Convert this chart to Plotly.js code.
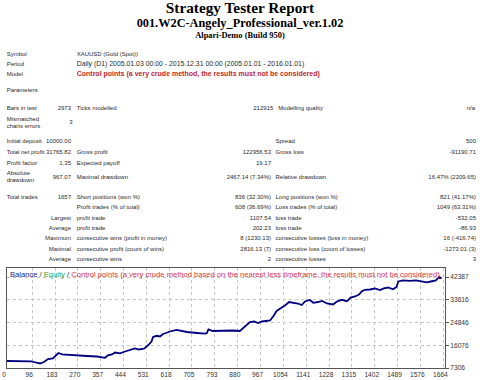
<!DOCTYPE html>
<html>
<head>
<meta charset="utf-8">
<script src="https://cdn.plot.ly/plotly-3.0.1.min.js"></script>
<style>
html,body{margin:0;padding:0;background:#fff;}
#page{position:relative;width:480px;height:380px;overflow:hidden;background:#fff;}
.t{position:absolute;white-space:nowrap;font-family:"Liberation Serif","Times New Roman",serif;font-weight:bold;color:#000;line-height:1;left:0;width:480px;text-align:center;}
.c{position:absolute;white-space:nowrap;font-family:"Liberation Sans",Arial,sans-serif;font-size:6px;line-height:8px;color:#2a2a2a;}
#chart{position:absolute;left:0;top:262px;width:480px;height:118px;}
</style>
</head>
<body>
<div id="page">
  <div class="t" style="top:0px;font-size:15.3px;">Strategy Tester Report</div>
  <div class="t" style="top:17px;font-size:12.3px;">001.W2C-Angely_Professional_ver.1.02</div>
  <div class="t" style="top:30.6px;font-size:8.45px;">Alpari-Demo (Build 950)</div>
  <div id="report"></div>
  <div id="chart"></div>
</div>
<script>
// ---- report table text ----
var colX = {L1: 6.7, R2: 71, L3: 76.7, R4: 271, L5: 275.5, R6: 476};
var reportRows = [
  {y: 54.3, cells: [["Symbol","L1"],["XAUUSD (Gold (Spot))","L3"]]},
  {y: 64.3, cells: [["Period","L1"],["Daily (D1) 2005.01.03 00:00 - 2015.12.31 00:00 (2005.01.01 - 2016.01.01)","L3","period"]]},
  {y: 74.3, cells: [["Model","L1"],["Control points (a very crude method, the results must not be considered)","L3","red"]]},
  {y: 90, cells: [["Parameters","L1"]]},
  {y: 107.7, cells: [["Bars in test","L1"],["2973","R2"],["Ticks modelled","L3"],["212915",273.3,"R"],["Modelling quality",278.3,"L"],["n/a",475,"R"]]},
  {y: 118.7, cells: [["Mismatched","L1"]]},
  {y: 126, cells: [["charts errors","L1"]]},
  {y: 122.3, cells: [["3",72.5,"R"]]},
  {y: 141, cells: [["Initial deposit","L1"],["10000.00","R2"],["Spread","L5"],["500","R6"]]},
  {y: 152, cells: [["Total net profit","L1"],["31765.82","R2"],["Gross profit","L3"],["122956.53","R4"],["Gross loss","L5"],["-91190.71","R6"]]},
  {y: 162.7, cells: [["Profit factor","L1"],["1.35","R2"],["Expected payoff","L3"],["19.17","R4"]]},
  {y: 172.7, cells: [["Absolute","L1"]]},
  {y: 180, cells: [["drawdown","L1"]]},
  {y: 176.7, cells: [["967.07","R2"],["Maximal drawdown","L3"],["2467.14 (7.34%)","R4"],["Relative drawdown","L5"],["16.47% (2209.65)","R6"]]},
  {y: 196.7, cells: [["Total trades","L1"],["1657","R2"],["Short positions (won %)","L3"],["836 (32.30%)","R4"],["Long positions (won %)","L5"],["821 (41.17%)","R6"]]},
  {y: 207.3, cells: [["Profit trades (% of total)","L3"],["608 (36.69%)","R4"],["Loss trades (% of total)","L5"],["1049 (63.31%)","R6"]]},
  {y: 217.7, cells: [["Largest","R2"],["profit trade","L3"],["1107.54","R4"],["loss trade","L5"],["-532.05","R6"]]},
  {y: 228, cells: [["Average","R2"],["profit trade","L3"],["202.23","R4"],["loss trade","L5"],["-86.93","R6"]]},
  {y: 238.3, cells: [["Maximum","R2"],["consecutive wins (profit in money)","L3"],["8 (1230.13)","R4"],["consecutive losses (loss in money)","L5"],["16 (-416.74)","R6"]]},
  {y: 248.7, cells: [["Maximal","R2"],["consecutive profit (count of wins)","L3"],["2816.13 (7)","R4"],["consecutive loss (count of losses)","L5"],["-1273.01 (3)","R6"]]},
  {y: 259, cells: [["Average","R2"],["consecutive wins","L3"],["2","R4"],["consecutive losses","L5"],["3","R6"]]}
];
var rep = document.getElementById('report');
reportRows.forEach(function(row){
  row.cells.forEach(function(cell){
    var d = document.createElement('div');
    d.className = 'c';
    d.textContent = cell[0];
    var x, side;
    if (typeof cell[1] === 'number') { x = cell[1]; side = cell[2]; }
    else { x = colX[cell[1]]; side = cell[1].charAt(0); }
    if (side === 'L') d.style.left = x + 'px'; else d.style.right = (480 - x) + 'px';
    d.style.top = (row.y - 4) + 'px';
    if (cell[2] === 'period') d.style.fontSize = '6.9px';
    if (cell[2] === 'red') { d.style.color = '#c0282d'; d.style.fontWeight = 'bold'; d.style.fontSize = '7px'; }
    rep.appendChild(d);
  });
});

// ---- chart data ----
var trades = [0,50,92,110,126,141,156,175,187,196,210,229,267,305,343,374,385,400,412,431,450,469,488,503,522,538,551,557,571,583,595,606,621,647,667,686,724,755,762,768,785,812,839,862,888,907,926,942,957,972,989,1003,1016,1028,1045,1060,1075,1094,1109,1124,1136,1155,1168,1186,1201,1220,1243,1258,1277,1296,1310,1327,1342,1353,1365,1384,1403,1422,1437,1453,1472,1485,1492,1510,1536,1559,1578,1601,1616,1635,1648,1657];
var balance = [10000,9812,9889,9426,9041,9619,10776,10968,12318,13088,12587,12510,12202,11932,11739,11238,12202,12510,13281,12973,13667,14245,14823,14438,14746,16057,17522,19257,19719,19449,20413,20798,21377,22032,21570,21184,20799,20529,20799,22225,21570,21686,21570,21763,21570,23304,25039,25232,24654,25232,25425,25617,27352,29280,30436,31400,32749,32557,32171,31593,32943,33520,32441,32749,33135,32171,31786,32943,33598,33019,34484,34869,35640,36874,37452,37568,37953,37375,38030,38339,37645,38532,40652,41114,40922,41114,40845,40343,40652,41037,42387,41766];
var xTicks = [0,96,183,270,357,444,531,618,705,793,880,967,1054,1141,1228,1315,1402,1489,1576,1664];
var yTicks = [7306,16076,24846,33616,42387];

var fam = '"Liberation Sans", Arial, sans-serif';
var trace = {
  x: trades, y: balance, type: 'scatter', mode: 'lines',
  line: {color: '#000080', width: 1.8}, hoverinfo: 'skip'
};
var layout = {
  width: 480, height: 118,
  margin: {l: 7, r: 35, t: 6, b: 12, pad: 0},
  paper_bgcolor: 'rgba(0,0,0,0)', plot_bgcolor: '#ffffff',
  showlegend: false,
  font: {family: fam, size: 6.6, color: '#333'},
  xaxis: {
    range: [0, 1670], tickmode: 'array', tickvals: xTicks, ticktext: xTicks.map(String),
    showgrid: true, gridcolor: '#c4c4c4', griddash: 'dot', gridwidth: 1,
    showline: true, mirror: true, linecolor: '#555', linewidth: 1,
    zeroline: false, ticks: '', ticklabelshift: -3,
    tickfont: {family: fam, size: 6.6, color: '#333'}
  },
  yaxis: {
    side: 'right', range: [7306, 45856], tickmode: 'array', tickvals: yTicks, ticktext: yTicks.map(String),
    showgrid: true, gridcolor: '#c4c4c4', griddash: 'dot', gridwidth: 1,
    showline: true, mirror: true, linecolor: '#555', linewidth: 1,
    zeroline: false, ticks: 'outside', ticklen: 3, tickcolor: '#555',
    tickfont: {family: fam, size: 6.6, color: '#333'}
  },
  annotations: [{
    xref: 'paper', yref: 'paper', x: 0, y: 1, xanchor: 'left', yanchor: 'top',
    xshift: 1, yshift: 0, showarrow: false, align: 'left',
    font: {family: fam, size: 7.6, color: '#333'},
    text: '<span style="color:#1c1c8c">Balance</span> / <span style="color:#2ca02c">Equity</span> / <span style="color:#d9343f">Control points (a very crude method based on the nearest less timeframe, the results must not be considered)</span>'
  }]
};
Plotly.newPlot('chart', [trace], layout, {staticPlot: true, displayModeBar: false});
</script>
</body>
</html>
